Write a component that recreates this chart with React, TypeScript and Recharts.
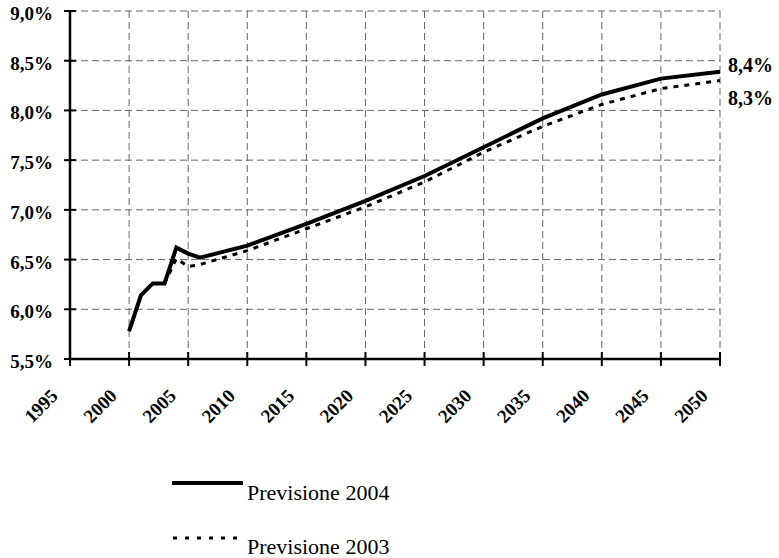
import { LineChart, Line, XAxis, YAxis, CartesianGrid, Legend } from "recharts";

const years = [2000, 2001, 2002, 2003, 2004, 2005, 2006, 2010, 2015, 2020, 2025, 2030, 2035, 2040, 2045, 2050];
const prev2004 = [5.78, 6.14, 6.26, 6.26, 6.62, 6.56, 6.52, 6.64, 6.86, 7.09, 7.34, 7.63, 7.92, 8.16, 8.32, 8.39];
const prev2003 = [5.78, 6.14, 6.26, 6.26, 6.51, 6.43, 6.45, 6.59, 6.81, 7.03, 7.28, 7.58, 7.84, 8.06, 8.22, 8.30];
const xTicks = [1995, 2000, 2005, 2010, 2015, 2020, 2025, 2030, 2035, 2040, 2045, 2050];
const yTicks = [5.5, 6.0, 6.5, 7.0, 7.5, 8.0, 8.5, 9.0];

const data = years.map((y, i) => ({ year: y, p2004: prev2004[i], p2003: prev2003[i] }));

const FONT = "'Liberation Serif', 'Times New Roman', serif";
const pct = (v: number) => v.toFixed(1).replace(".", ",") + "%";

const XTick = ({ x, y, payload }: any) => (
  <g>
    <line x1={x} y1={y - 7} x2={x} y2={y + 7} stroke="#000" strokeWidth={2} />
    <text
      x={x - 11}
      y={y + 38}
      textAnchor="end"
      transform={`rotate(-45 ${x - 11} ${y + 38})`}
      fontFamily={FONT}
      fontWeight="bold"
      fontSize={19}
      fill="#000"
    >
      {payload.value}
    </text>
  </g>
);

const YTick = ({ x, y, payload }: any) => (
  <g>
    <line x1={x - 6} y1={y} x2={x + 6} y2={y} stroke="#000" strokeWidth={2} />
    <text x={x - 17} y={y + 9} textAnchor="end" fontFamily={FONT} fontWeight="bold" fontSize={19} fill="#000">
      {pct(payload.value)}
    </text>
  </g>
);

const endLabel = (dy: number, series: number[]) => (props: any) => {
  if (props.index !== series.length - 1) return null;
  return (
    <text x={props.x + 8} y={props.y + dy} fontFamily={FONT} fontWeight="bold" fontSize={20} fill="#000">
      {pct(Math.round(series[series.length - 1] * 10) / 10)}
    </text>
  );
};

const LegendBox = () => (
  <svg width={300} height={88} style={{ display: "block" }}>
    <line x1={0} y1={13} x2={71} y2={13} stroke="#000" strokeWidth={4} />
    <text x={75} y={30} fontFamily={FONT} fontSize={22} fill="#000">Previsione 2004</text>
    <line x1={1} y1={68} x2={71} y2={68} stroke="#000" strokeWidth={3} strokeDasharray="4 8" />
    <text x={75} y={84} fontFamily={FONT} fontSize={22} fill="#000">Previsione 2003</text>
  </svg>
);

export default function App() {
  return (
    <div style={{ position: "absolute", left: 0, top: 0, background: "#fff" }}>
      <LineChart width={779} height={558} data={data} margin={{ top: 11, right: 59, left: 0, bottom: 139 }}>
        <CartesianGrid stroke="#666" strokeDasharray="7 4" strokeWidth={1} />
        <XAxis
          dataKey="year"
          type="number"
          domain={[1995, 2050]}
          ticks={xTicks}
          tick={<XTick />}
          tickLine={false}
          tickSize={0}
          tickMargin={0}
          height={60}
          axisLine={{ stroke: "#000", strokeWidth: 2.5 }}
          interval={0}
        />
        <YAxis
          type="number"
          domain={[5.5, 9]}
          ticks={yTicks}
          tick={<YTick />}
          tickLine={false}
          tickSize={0}
          tickMargin={0}
          width={70}
          axisLine={{ stroke: "#000", strokeWidth: 2.5 }}
          interval={0}
        />
        <Legend
          layout="horizontal"
          verticalAlign="middle"
          content={<LegendBox />}
          wrapperStyle={{ position: "absolute", left: 172, top: 470, width: 300 }}
        />
        <Line
          dataKey="p2003"
          stroke="#000"
          strokeWidth={3}
          strokeDasharray="5 6"
          dot={false}
          isAnimationActive={false}
          label={endLabel(24, prev2003)}
        />
        <Line
          dataKey="p2004"
          stroke="#000"
          strokeWidth={4}
          dot={false}
          isAnimationActive={false}
          label={endLabel(0, prev2004)}
        />
      </LineChart>
    </div>
  );
}
